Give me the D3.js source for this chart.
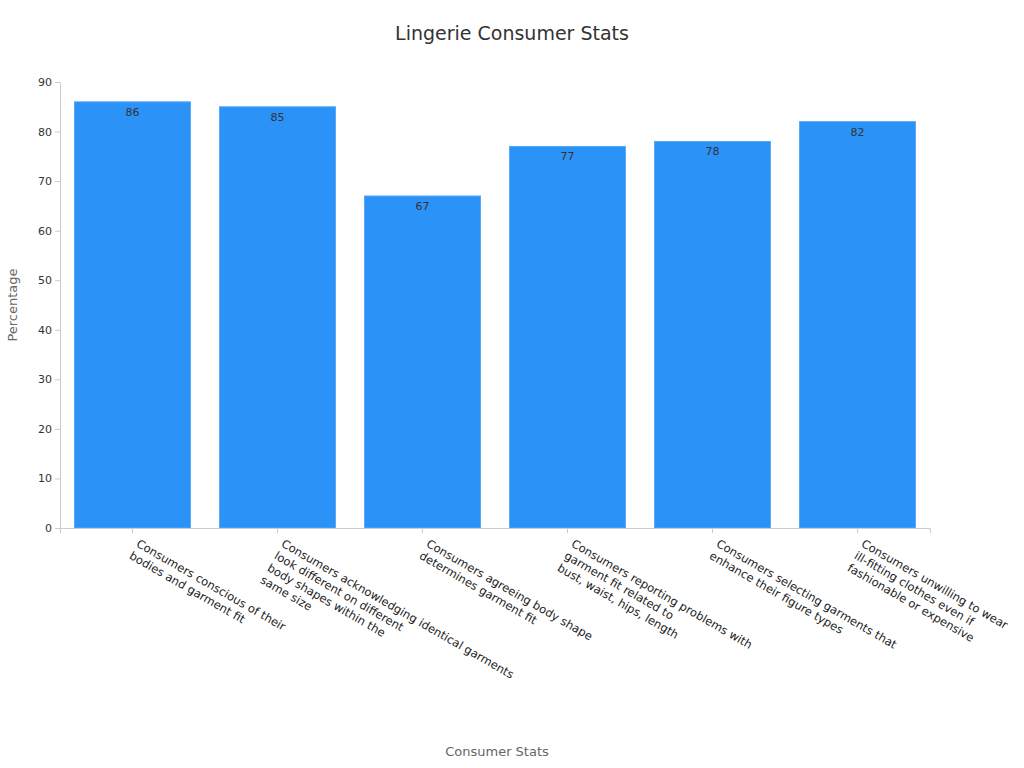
<!DOCTYPE html>
<html><head><meta charset="utf-8">
<script src="https://cdn.jsdelivr.net/npm/d3@7"></script>
<style>body{margin:0;background:#fff;font-family:"DejaVu Sans",sans-serif}</style>
</head><body><svg id="c" width="1024" height="768"></svg>
<script>
const categories = [
 ["Consumers conscious of their","bodies and garment fit"],
 ["Consumers acknowledging identical garments","look different on different","body shapes within the","same size"],
 ["Consumers agreeing body shape","determines garment fit"],
 ["Consumers reporting problems with","garment fit related to","bust, waist, hips, length"],
 ["Consumers selecting garments that","enhance their figure types"],
 ["Consumers unwilling to wear","ill-fitting clothes even if","fashionable or expensive"]
];
const values = [86,85,67,77,78,82];
const yTicks = [0,10,20,30,40,50,60,70,80,90];

const svg = d3.select("#c");
const m = {l:60, r:930, t:82, b:528};
const x = d3.scaleBand().domain(d3.range(values.length)).range([m.l,m.r]).paddingInner(0.2).paddingOuter(0.1);
const y = d3.scaleLinear().domain([0,90]).range([m.b,m.t]);

svg.append("text").attr("x",512).attr("y",40).attr("text-anchor","middle")
 .attr("font-size",19).attr("fill","#333").text("Lingerie Consumer Stats");

const ya = svg.append("g").attr("transform",`translate(${m.l},0)`)
 .call(d3.axisLeft(y).tickValues(yTicks).tickSize(5));
ya.selectAll("text").attr("font-size",11).attr("fill","#333").attr("font-family","DejaVu Sans");
ya.selectAll("line,path").attr("stroke","#ccc");

svg.selectAll("rect.bar").data(values).join("rect")
 .attr("x",(d,i)=>x(i)).attr("width",x.bandwidth())
 .attr("y",d=>y(d)).attr("height",d=>m.b-y(d))
 .attr("fill","#2b92f7").attr("stroke","#5aa9f5").attr("stroke-width",1);

svg.selectAll("text.val").data(values).join("text")
 .attr("x",(d,i)=>x(i)+x.bandwidth()/2).attr("y",d=>y(d)+14)
 .attr("text-anchor","middle").attr("font-size",11).attr("fill","#333").text(d=>d);

const xa = svg.append("g").attr("transform",`translate(0,${m.b})`)
 .call(d3.axisBottom(x).tickSize(5).tickFormat(""));
xa.selectAll("line,path").attr("stroke","#ccc");

categories.forEach((lines,i)=>{
  const g = svg.append("g").attr("transform",`translate(${x(i)+x.bandwidth()/2+3},${m.b+18}) rotate(30)`);
  lines.forEach((s,j)=>g.append("text").attr("x",0).attr("y",j*14)
    .attr("font-size",11.5).attr("fill","#222").text(s));
});

svg.append("text").attr("x",497).attr("y",756).attr("text-anchor","middle")
 .attr("font-size",13).attr("fill","#666").text("Consumer Stats");
svg.append("text").attr("transform","translate(17,305) rotate(-90)").attr("text-anchor","middle")
 .attr("font-size",13).attr("fill","#666").text("Percentage");
</script></body></html>
